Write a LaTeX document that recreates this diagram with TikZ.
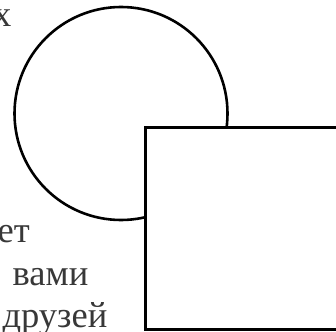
\documentclass[tikz,border=0pt]{standalone}
\usepackage{fontspec}
\setmainfont{Liberation Serif}
\usepackage{xcolor}
\definecolor{ink}{HTML}{383838}

\begin{document}
\begin{tikzpicture}[x=1pt,y=-1pt,
  outline/.style={draw=black,line width=2.6pt,inner sep=0pt,outer sep=0pt},
  word/.style={text=ink,inner sep=0pt,anchor=base east,font=\fontsize{36.5}{43}\selectfont}]
  \useasboundingbox (0,0) rectangle (336,331);
  \clip (0,0) rectangle (336,331);

  % Text, cut at the left edge
  \node[word] (wordx) at (11.5,27) {х};
  \node[word] (wordet) at (30,242) {ет};
  \node[word] (wordvami) at (88.5,285) {вами};
  \node[word] (wordfriends) at (107.5,327) {друзей};

  % Circle
  \node[outline,circle,minimum size=213pt] (ring) at (121,113.5) {};

  % Square on top of the circle
  \node[outline,line width=3pt,fill=white,rectangle,anchor=north west,
        minimum width=210pt,minimum height=202pt] (box) at (145,127) {};
\end{tikzpicture}
\end{document}
